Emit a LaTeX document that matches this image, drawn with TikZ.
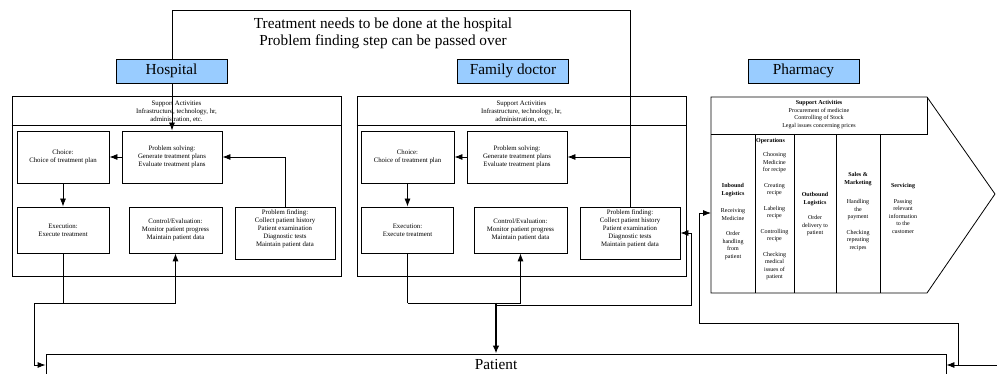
\documentclass[tikz,border=0pt]{standalone}
\usepackage{fontspec}
\setmainfont{Liberation Serif}
\usetikzlibrary{arrows.meta}
\definecolor{labelblue}{RGB}{153,204,255}
\begin{document}
\begin{tikzpicture}[x=1pt,y=-1pt,
  every node/.style={inner sep=0pt},
  ln/.style={line width=0.8pt},
  arr/.style={ln,-{Latex[length=8pt,width=6pt]}},
  bigarr/.style={line width=1.6pt,-{Latex[length=8pt,width=6.5pt]}},
  box/.style={draw,ln,align=center,font=\fontsize{6.8}{8}\selectfont},
  boxtxt/.style={align=center,font=\fontsize{6.8}{8}\selectfont},
  panel/.style={draw,ln,minimum width=329,minimum height=180},
  suptxt/.style={align=center,anchor=north,font=\fontsize{6.8}{8.3}\selectfont},
  lab/.style={draw,ln,fill=labelblue,minimum width=111,minimum height=24,font=\fontsize{15.3}{18}\selectfont},
  phtxt/.style={align=center,anchor=north,font=\fontsize{6}{7.5}\selectfont},
]
\useasboundingbox (0,0) rectangle (997,374);

% ---------- title ----------
\node[align=center,font=\fontsize{15.3}{17}\selectfont] (title) at (383,33.5)
  {Treatment needs to be done at the hospital\\Problem finding step can be passed over};

% ---------- hospital panel ----------
\node[panel] (hPanel) at (176.5,186) {};
\draw[ln] (hPanel.west |- 0,125) -- (hPanel.east |- 0,125);
\node[suptxt] (hSup) at (176.5,100.5) {Support Activities\\Infrastructure, technology, hr,\\administration, etc.};
\node[box,minimum width=92,minimum height=52] (hChoice) at (63,157) {Choice:\\Choice of treatment plan};
\node[box,minimum width=100,minimum height=52] (hPS) at (172,157) {Problem solving:\\Generate treatment plans\\Evaluate treatment plans};
\node[box,minimum width=92,minimum height=46] (hExec) at (63,230) {Execution:\\Execute treatment};
\node[box,minimum width=93,minimum height=46] (hCtrl) at (175.5,230) {Control/Evaluation:\\Monitor patient progress\\Maintain patient data};
\node[box,minimum width=100,minimum height=52] (hPF) at (285,233) {};
\node[boxtxt] (hPFtxt) at (285,228.5) {Problem finding:\\Collect patient history\\Patient examination\\Diagnostic tests\\Maintain patient data};

% ---------- family doctor panel ----------
\node[panel] (fPanel) at (521.5,186) {};
\draw[ln] (fPanel.west |- 0,125) -- (fPanel.east |- 0,125);
\node[suptxt] (fSup) at (521.5,100.5) {Support Activities\\Infrastructure, technology, hr,\\administration, etc.};
\node[box,minimum width=93,minimum height=52] (fChoice) at (407.5,157) {Choice:\\Choice of treatment plan};
\node[box,minimum width=100,minimum height=52] (fPS) at (517,157) {Problem solving:\\Generate treatment plans\\Evaluate treatment plans};
\node[box,minimum width=92,minimum height=46] (fExec) at (407.5,230) {Execution:\\Execute treatment};
\node[box,minimum width=93,minimum height=46] (fCtrl) at (520.5,230) {Control/Evaluation:\\Monitor patient progress\\Maintain patient data};
\node[box,minimum width=100,minimum height=52] (fPF) at (630,233) {};
\node[boxtxt] (fPFtxt) at (630,228.5) {Problem finding:\\Collect patient history\\Patient examination\\Diagnostic tests\\Maintain patient data};

% ---------- patient ----------
\node[draw,ln,minimum width=900,minimum height=22,font=\fontsize{15.3}{18}\selectfont] (patient) at (496,365) {Patient};

% ---------- pharmacy value chain ----------
\coordinate (phNW) at (711,97);
\coordinate (phNE) at (927,97);
\coordinate (phTip) at (995,194);
\coordinate (phSE) at (927,293);
\coordinate (phSW) at (711,293);
\draw[ln] (phNW) -- (phNE) -- (phTip) -- (phSE) -- (phSW) -- cycle;
\draw[ln] (711,134) -- (927,134) -- (phNE);
\foreach \x in {755,794,836,880} \draw[ln] (\x,134) -- (\x,293);
\node[phtxt] (phSup) at (819,100.5) {\textbf{Support Activities}\\Procurement of medicine\\Controlling of Stock\\Legal issues concerning prices};
\node[phtxt] (phIn) at (733,183.5) {\textbf{Inbound}\\\textbf{Logistics}\\[10pt]Receiving\\Medicine\\[8pt]Order\\handling\\from\\patient};
\node[font=\fontsize{6}{7.5}\selectfont\bfseries,anchor=west] (phOpsH) at (756,141) {Operations};
\node[phtxt] (phOps) at (774.5,152.5) {Choosing\\Medicine\\for recipe\\[8pt]Creating\\recipe\\[8pt]Labeling\\recipe\\[8pt]Controlling\\recipe\\[8pt]Checking\\medical\\issues of\\patient};
\node[phtxt] (phOut) at (815,192.5) {\textbf{Outbound}\\\textbf{Logistics}\\[8pt]Order\\delivery to\\patient};
\node[phtxt] (phSales) at (858,172.5) {\textbf{Sales \&}\\\textbf{Marketing}\\[12pt]Handling\\the\\payment\\[8pt]Checking\\repeating\\recipes};
\node[phtxt] (phServ) at (903,183.5) {\textbf{Servicing}\\[8pt]Passing\\relevant\\information\\to the\\customer};

% ---------- connectors: hospital ----------
\draw[arr] (hPS.west) -- (hChoice.east);
\draw[arr] (hChoice.south) -- (hExec.north);
\draw[arr] (hPF.north) |- (hPS.east);
\coordinate (hj) at (hExec.south |- 0,303);
\draw[ln] (hExec.south) -- (hj);
\draw[arr] (hj) -| (hCtrl.south);
\draw[arr] (hj) -- (34,303) |- (patient.west);

% ---------- connectors: family doctor ----------
\draw[arr] (fPS.west) -- (fChoice.east);
\draw[arr] (fChoice.south) -- (fExec.north);
\draw[arr] (fPF.north |- fPS.east) -- (fPS.east);
\coordinate (topbend) at (630,10);
\draw[arr] (fPF.north) -- (topbend) -| (hPS.north);
\coordinate (fj) at (fExec.south |- 0,303);
\draw[ln] (fExec.south) -- (fj);
\draw[arr] (fj) -| (fCtrl.south);
\coordinate (pj) at (patient.north |- 0,303);
\draw[bigarr] (pj) -- (patient.north);
\coordinate (fback) at (496,305);
\draw[arr] (fback) -| (691,233) -- (fPF.east);

% ---------- connectors: pharmacy ----------
\coordinate (rEdge) at (997,365);
\coordinate (rj) at (958,365);
\coordinate (phEntry) at (711,213);
\draw[arr] (rEdge) -- (patient.east);
\draw[arr] (rj) |- (699,323) |- (phEntry);

% ---------- organisation labels ----------
\node[lab] (hosp) at (171.5,71) {Hospital};
\node[lab] (fdoc) at (513,71) {Family doctor};
\node[lab] (pharm) at (803.5,71) {Pharmacy};
\end{tikzpicture}
\end{document}
